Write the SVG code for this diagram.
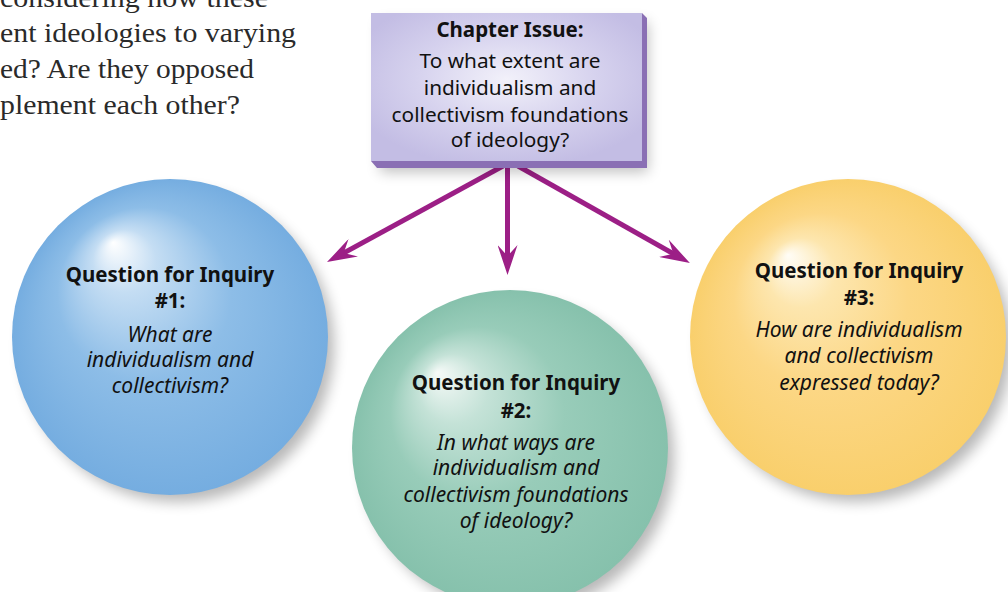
<svg xmlns="http://www.w3.org/2000/svg" width="1008" height="592" viewBox="0 0 1008 592">
<style>
.intro{font-family:"Liberation Serif",serif;font-size:28px;fill:#2a2a2a}
.h{font-family:"Noto Sans",sans-serif;font-weight:bold;font-size:20.5px;fill:#111;text-anchor:middle}
.r{font-family:"Noto Sans",sans-serif;font-size:20.8px;fill:#111;text-anchor:middle}
.i{font-family:"Noto Sans",sans-serif;font-style:italic;font-size:21px;fill:#111;text-anchor:middle}
.conn{stroke:#9c1f86;stroke-width:5;fill:none;marker-end:url(#ah)}
</style>
<defs>
<marker id="ah" markerUnits="userSpaceOnUse" viewBox="0 0 30 20" refX="16" refY="10" markerWidth="30" markerHeight="20" orient="auto">
<path d="M30,10 L0,0 L11,10 L0,20 Z" fill="#9c1f86"/>
</marker>
<radialGradient id="gBox" cx="0.5" cy="0.45" r="0.6">
<stop offset="0" stop-color="#f2f1fa"/>
<stop offset="0.55" stop-color="#d6d2ee"/>
<stop offset="1" stop-color="#c3bde4"/>
</radialGradient>
<radialGradient id="gBlue" cx="0.5" cy="0.5" r="0.5" fx="0.32" fy="0.2">
<stop offset="0" stop-color="#ffffff"/>
<stop offset="0.2" stop-color="#c4ddf3"/>
<stop offset="0.55" stop-color="#8dbde7"/>
<stop offset="1" stop-color="#75ade0"/>
</radialGradient>
<radialGradient id="gGreen" cx="0.5" cy="0.5" r="0.5" fx="0.27" fy="0.26">
<stop offset="0" stop-color="#f6faf8"/>
<stop offset="0.22" stop-color="#c4e2d7"/>
<stop offset="0.55" stop-color="#98ccb9"/>
<stop offset="1" stop-color="#86c1ac"/>
</radialGradient>
<radialGradient id="gYellow" cx="0.5" cy="0.5" r="0.5" fx="0.31" fy="0.24">
<stop offset="0" stop-color="#fffdf6"/>
<stop offset="0.22" stop-color="#fde6ae"/>
<stop offset="0.55" stop-color="#fcd785"/>
<stop offset="1" stop-color="#f9cf6c"/>
</radialGradient>
<filter id="sh" x="-20%" y="-20%" width="140%" height="140%">
<feGaussianBlur stdDeviation="7"/>
</filter>
</defs>
<rect width="1008" height="592" fill="#ffffff"/>

<g id="intro">
<text class="intro" x="0" y="7" textLength="268" lengthAdjust="spacingAndGlyphs">considering how these</text>
<text class="intro" x="0" y="42" textLength="296" lengthAdjust="spacingAndGlyphs">ent ideologies to varying</text>
<text class="intro" x="0" y="78" textLength="254" lengthAdjust="spacingAndGlyphs">ed? Are they opposed</text>
<text class="intro" x="0" y="114" textLength="240" lengthAdjust="spacingAndGlyphs">plement each other?</text>
</g>

<g id="q1">
<circle cx="178" cy="346" r="156" fill="#000" opacity="0.28" filter="url(#sh)"/>
<circle cx="170" cy="337" r="158" fill="url(#gBlue)"/>
<text class="h" x="170" y="282">Question for Inquiry</text>
<text class="h" x="170" y="308">#1:</text>
<text class="i" x="170" y="342">What are</text>
<text class="i" x="170" y="367">individualism and</text>
<text class="i" x="170" y="393">collectivism?</text>
</g>

<g id="q2">
<circle cx="518" cy="457" r="156" fill="#000" opacity="0.28" filter="url(#sh)"/>
<circle cx="510" cy="448" r="158" fill="url(#gGreen)"/>
<text class="h" x="516" y="390">Question for Inquiry</text>
<text class="h" x="516" y="418">#2:</text>
<text class="i" x="516" y="450">In what ways are</text>
<text class="i" x="516" y="475">individualism and</text>
<text class="i" x="516" y="502">collectivism foundations</text>
<text class="i" x="516" y="528">of ideology?</text>
</g>

<g id="q3">
<circle cx="856" cy="346" r="156" fill="#000" opacity="0.28" filter="url(#sh)"/>
<circle cx="848" cy="337" r="158" fill="url(#gYellow)"/>
<text class="h" x="859" y="278">Question for Inquiry</text>
<text class="h" x="859" y="305">#3:</text>
<text class="i" x="859" y="337">How are individualism</text>
<text class="i" x="859" y="363">and collectivism</text>
<text class="i" x="859" y="390">expressed today?</text>
</g>

<g id="connectors">
<line class="conn" x1="503" y1="166" x2="339.3" y2="255.4"/>
<line class="conn" x1="507.5" y1="166" x2="507.5" y2="261"/>
<line class="conn" x1="518" y1="166" x2="677.7" y2="256.2"/>
</g>

<g id="chapter">
<rect x="380" y="22" width="268" height="150" fill="#000" opacity="0.25" filter="url(#sh)"/>
<polygon points="642,13 647,18 647,168 377,168 371,161 642,161" fill="#8a6fb4"/>
<rect x="371" y="13" width="271" height="148" fill="url(#gBox)"/>
<text class="h" x="510" y="37">Chapter Issue:</text>
<text class="r" x="510" y="68">To what extent are</text>
<text class="r" x="510" y="95">individualism and</text>
<text class="r" x="510" y="122">collectivism foundations</text>
<text class="r" x="510" y="147">of ideology?</text>
</g>
</svg>
